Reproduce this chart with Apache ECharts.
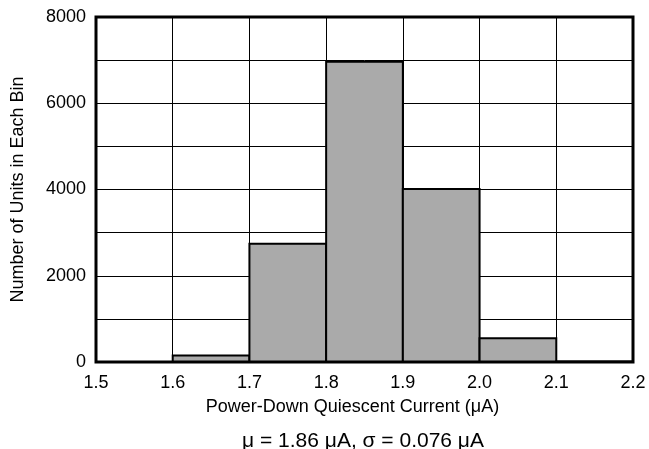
<!DOCTYPE html>
<html>
<head>
<meta charset="utf-8">
<script src="https://cdn.jsdelivr.net/npm/echarts@6/dist/echarts.min.js"></script>
<style>
    html, body { margin: 0; padding: 0; background: #fff; }
    #chart { width: 649px; height: 449px; }
</style>
</head>
<body>
<div id="chart"></div>
<script>
    // bin edges and counts
    var binStart = [1.5, 1.6, 1.7, 1.8, 1.9, 2.0, 2.1];
    var binEnd = [1.6, 1.7, 1.8, 1.9, 2.0, 2.1, 2.2];
    var counts = [0, 150, 2740, 6960, 4010, 550, 10];
    var xTicks = ['1.5', '1.6', '1.7', '1.8', '1.9', '2.0', '2.1', '2.2'];
    var yTicks = [0, 2000, 4000, 6000, 8000];

    var font = 'Liberation Sans, Arial, sans-serif';

    var bins = binStart.map(function (s, i) {
        return [s, binEnd[i], counts[i]];
    });

    var chart = echarts.init(document.getElementById('chart'));

    var option = {
        animation: false,
        grid: {
            left: 96,
            right: 16,
            top: 17,
            bottom: 87,
            show: true,
            borderColor: '#000',
            borderWidth: 3,
            z: 5
        },
        title: {
            text: 'μ = 1.86 μA, σ = 0.076 μA',
            left: 358,
            textAlign: 'center',
            top: 426,
            textStyle: { fontFamily: font, fontSize: 21, fontWeight: 'normal', color: '#000' }
        },
        xAxis: {
            type: 'value',
            min: 1.5,
            max: 2.2,
            interval: 0.1,
            name: 'Power-Down Quiescent Current (μA)',
            nameLocation: 'middle',
            nameGap: 36,
            nameTextStyle: { fontFamily: font, fontSize: 18, color: '#000', padding: [0, 24, 0, 0] },
            axisLine: { show: false },
            axisTick: { show: false },
            axisLabel: {
                color: '#000',
                fontFamily: font,
                fontSize: 18,
                margin: 12,
                formatter: function (v) {
                    var idx = Math.round((v - 1.5) * 10);
                    return xTicks[idx];
                }
            },
            splitLine: { show: true, lineStyle: { color: '#000', width: 1 } }
        },
        yAxis: {
            type: 'value',
            min: 0,
            max: 8000,
            interval: 1000,
            name: 'Number of Units in Each Bin',
            nameLocation: 'middle',
            nameGap: 69,
            nameTextStyle: { fontFamily: font, fontSize: 18, color: '#000' },
            axisLine: { show: false },
            axisTick: { show: false },
            axisLabel: {
                color: '#000',
                fontFamily: font,
                fontSize: 18,
                margin: 10,
                formatter: function (v) {
                    return yTicks.indexOf(v) >= 0 ? String(v) : '';
                }
            },
            splitLine: { show: true, lineStyle: { color: '#000', width: 1 } }
        },
        series: [{
            type: 'custom',
            data: bins,
            encode: { x: [0, 1], y: 2 },
            z: 3,
            renderItem: function (params, api) {
                var p0 = api.coord([api.value(0), 0]);
                var p1 = api.coord([api.value(1), api.value(2)]);
                var h = p0[1] - p1[1];
                if (h <= 0) return null;
                return {
                    type: 'rect',
                    shape: { x: p0[0], y: p1[1], width: p1[0] - p0[0], height: h },
                    style: { fill: '#aaaaaa', stroke: '#000', lineWidth: 2 }
                };
            }
        }]
    };

    chart.setOption(option);
</script>
</body>
</html>
